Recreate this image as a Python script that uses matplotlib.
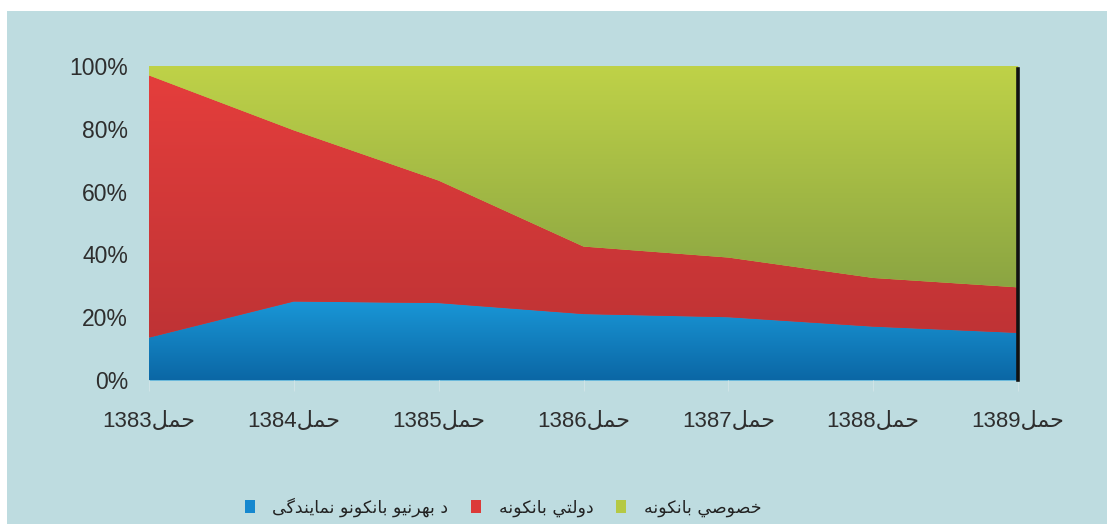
import numpy as np
import matplotlib
matplotlib.use("Agg")
import matplotlib.pyplot as plt
from matplotlib.patches import Patch, Rectangle
from matplotlib.colors import LinearSegmentedColormap

years = [1383, 1384, 1385, 1386, 1387, 1388, 1389]
month = "حمل"

# shares in percent
foreign = [13.5, 25, 24.5, 21, 20, 17, 15]
state = [83.5, 54.5, 39, 21.5, 19, 15.5, 14.5]
private = [3, 20.5, 36.5, 57.5, 61, 67.5, 70.5]

labels = ["د بهرنیو بانکونو نمایندګی", "دولتي بانکونه", "خصوصي بانکونه"]

# minimal arabic shaping (matplotlib does no bidi/joining itself)
FORMS = {
    "ا": ("\uFE8D", "\uFE8E"),
    "ب": ("\uFE8F", "\uFE90", "\uFE91", "\uFE92"),
    "ت": ("\uFE95", "\uFE96", "\uFE97", "\uFE98"),
    "ح": ("\uFEA1", "\uFEA2", "\uFEA3", "\uFEA4"),
    "خ": ("\uFEA5", "\uFEA6", "\uFEA7", "\uFEA8"),
    "د": ("\uFEA9", "\uFEAA"),
    "ر": ("\uFEAD", "\uFEAE"),
    "ص": ("\uFEB9", "\uFEBA", "\uFEBB", "\uFEBC"),
    "ل": ("\uFEDD", "\uFEDE", "\uFEDF", "\uFEE0"),
    "م": ("\uFEE1", "\uFEE2", "\uFEE3", "\uFEE4"),
    "ن": ("\uFEE5", "\uFEE6", "\uFEE7", "\uFEE8"),
    "ه": ("\uFEE9", "\uFEEA", "\uFEEB", "\uFEEC"),
    "و": ("\uFEED", "\uFEEE"),
    "ي": ("\uFEF1", "\uFEF2", "\uFEF3", "\uFEF4"),
    "ی": ("\uFBFC", "\uFBFD", "\uFBFE", "\uFBFF"),
    "ک": ("\uFB8E", "\uFB8F", "\uFB90", "\uFB91"),
    "ګ": ("\uFB92", "\uFB93", "\uFB94", "\uFB95"),
}


def shape(text):
    out = []
    for i, ch in enumerate(text):
        if ch not in FORMS:
            out.append(ch)
            continue
        prev = text[i - 1] if i > 0 else None
        nxt = text[i + 1] if i + 1 < len(text) else None
        jp = prev in FORMS and len(FORMS[prev]) == 4
        jn = len(FORMS[ch]) == 4 and nxt in FORMS
        f = FORMS[ch]
        if jp and jn:
            out.append(f[3])
        elif jp:
            out.append(f[1])
        elif jn:
            out.append(f[2])
        else:
            out.append(f[0])
    return "".join(reversed(out))


fonts = ["Liberation Sans", "DejaVu Sans"]
bg = "#bedce0"

fig = plt.figure(figsize=(11.07, 5.24), dpi=100, facecolor="white")
fig.patches.append(Rectangle((7 / 1107, 0), 1, 1 - 11 / 524, transform=fig.transFigure,
                             facecolor=bg, edgecolor="none", zorder=-10))
ax = fig.add_axes([149 / 1107, 1 - 380 / 524, (1018 - 149) / 1107, 314 / 524])
ax.set_facecolor(bg)

x = np.arange(len(years))
b = np.array(foreign)
r = b + np.array(state)
g = r + np.array(private)

layers = [
    (np.zeros_like(b), b, ("#0b67a5", "#1a98d8"), (0, 26)),
    (b, r, ("#bf3335", "#e53e3c"), (14, 98)),
    (r, g, ("#8aa442", "#bfd248"), (28, 100)),
]
for lo, hi, cols, (y0, y1) in layers:
    poly = ax.fill_between(x, lo, hi, color=cols[1], lw=0, zorder=0.5)
    cmap = LinearSegmentedColormap.from_list("g", cols)
    ylo = min(y0, lo.min())
    yhi = max(y1, hi.max())
    # gradient spans y0..y1, flat colour outside that band
    vals = np.clip((np.linspace(ylo, yhi, 300) - y0) / (y1 - y0), 0, 1).reshape(-1, 1)
    im = ax.imshow(vals, cmap=cmap, vmin=0, vmax=1, origin="lower", aspect="auto",
                   extent=[x[0], x[-1], ylo, yhi], zorder=1, interpolation="bilinear")
    im.set_clip_path(poly.get_paths()[0], ax.transData)

ax.axvline(x[-1], ymin=0, ymax=0.99, color="#111111", lw=2.6, zorder=3, clip_on=False)

ax.set_xlim(x[0], x[-1])
ax.set_ylim(0, 100)
for s in ax.spines.values():
    s.set_visible(False)

ax.set_yticks([0, 20, 40, 60, 80, 100])
ax.set_yticklabels([f"{v}%" for v in [0, 20, 40, 60, 80, 100]], fontsize=16.5,
                   color="#2e2e2e", family=fonts)
ax.tick_params(axis="y", length=0, pad=15)

ax.set_xticks(x)
ax.set_xticklabels([f"{y}" + shape(month) for y in years], fontsize=16,
                   color="#2e2e2e", family=fonts)
ax.tick_params(axis="x", length=8, color="#cfe3e6", pad=14)

handles = [Patch(facecolor=c, edgecolor="none") for c in ["#1688cf", "#dc3a38", "#b5c944"]]
fig.legend(handles, [shape(t) for t in labels], loc="center", ncol=3,
           bbox_to_anchor=(503 / 1107, 1 - 507 / 524), frameon=False,
           prop={"family": "DejaVu Sans", "size": 12.5}, handlelength=0.6, handleheight=0.75,
           handletextpad=1.0, columnspacing=1.3, labelcolor="#222222")

fig.savefig("out.png", dpi=100, facecolor="white")
